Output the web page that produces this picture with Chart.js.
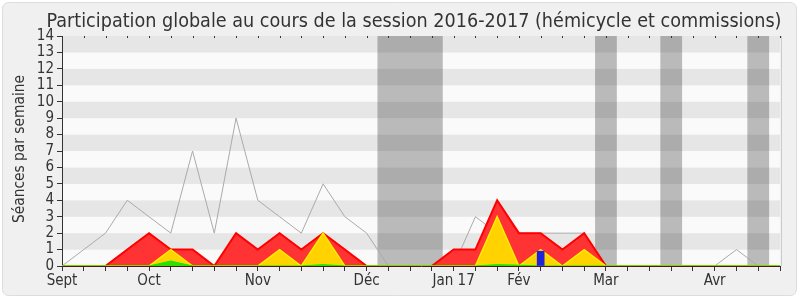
<!DOCTYPE html>
<html>
<head>
<meta charset="utf-8">
<script src="https://cdn.jsdelivr.net/npm/chart.js@4/dist/chart.umd.min.js"></script>
<style>
  html, body { margin: 0; padding: 0; background: #ffffff; }
  #wrap { width: 800px; height: 300px; }
</style>
</head>
<body>
<div id="wrap"><canvas id="participation-chart" width="800" height="300"></canvas></div>
<script>
// Semaines de la session (une étiquette par mois)
const weeks = ["Sept", "", "", "", "Oct", "", "", "", "", "Nov", "", "", "", "", "Déc", "", "", "",
  "Jan 17", "", "", "Fév", "", "", "", "Mar", "", "", "", "", "Avr", "", "", ""];

// Séances par semaine
const totalSeances = [0, 1, 2, 4, 3, 2, 7, 2, 9, 4, 3, 2, 5, 3, 2, 0, 0, 0, 0, 3, 2, 2, 2, 2, 2, 0, 0, 0, 0, 0, 0, 1, 0, 0];
const presences = [0, 0, 0, 1, 2, 1, 1, 0, 2, 1, 2, 1, 2, 1, 0, 0, 0, 0, 1, 1, 4, 2, 2, 1, 2, 0, 0, 0, 0, 0, 0, 0, 0, 0];
const participations = [0, 0, 0, 0, 0, 1, 0, 0, 0, 0, 1, 0, 2, 0, 0, 0, 0, 0, 0, 0, 3, 0, 1, 0, 1, 0, 0, 0, 0, 0, 0, 0, 0, 0];
const interventions = [0, 0, 0, 0, 0, 0.3, 0, 0, 0, 0, 0, 0, 0.08, 0, 0, 0, 0, 0, 0, 0, 0.08, 0.05, 0, 0, 0, 0, 0, 0, 0, 0, 0, 0, 0, 0];
const questions = [null, null, null, null, null, null, null, null, null, null, null, null, null, null, null, null, null, null,
  null, null, null, null, 0.9, null, null, null, null, null, null, null, null, null, null, null];

// Vacances parlementaires (indices de semaines, début et fin)
const vacances = [[15, 17], [25, 25], [28, 28], [32, 32]];

const titre = "Participation globale au cours de la session 2016-2017 (hémicycle et commissions)";
const titreAxe = "Séances par semaine";
const police = '"DejaVu Sans Condensed", "DejaVu Sans", sans-serif';

// Texte étiré horizontalement pour tenir dans une largeur donnée
function drawFitted(ctx, text, size, width, x, y, rotate) {
    ctx.save();
    ctx.font = size + "px " + police;
    const w = ctx.measureText(text).width;
    ctx.translate(x, y);
    if (rotate) ctx.rotate(-Math.PI / 2);
    ctx.scale(width / w, 1);
    ctx.fillStyle = "#333333";
    ctx.textAlign = "center";
    ctx.textBaseline = "alphabetic";
    ctx.fillText(text, 0, 0);
    ctx.restore();
}

const decorPlugin = {
    id: "decor",
    beforeDraw(chart) {
        const ctx = chart.ctx;
        const area = chart.chartArea;
        const x = chart.scales.x;
        const y = chart.scales.y;

        // fond général
        ctx.save();
        ctx.fillStyle = "#ffffff";
        ctx.fillRect(0, 0, chart.width, chart.height);
        ctx.fillStyle = "#f0f0f0";
        ctx.strokeStyle = "#dddddd";
        ctx.lineWidth = 1;
        ctx.beginPath();
        ctx.roundRect(2.5, 2.5, chart.width - 6, chart.height - 7, 6);
        ctx.fill();
        ctx.stroke();

        // bandes horizontales
        for (let v = 0; v < 14; v++) {
            ctx.fillStyle = v % 2 === 1 ? "#e6e6e6" : "#fafafa";
            const top = y.getPixelForValue(v + 1);
            const bottom = y.getPixelForValue(v);
            ctx.fillRect(area.left, top, area.right - area.left, bottom - top);
        }

        // vacances
        ctx.fillStyle = "rgba(40, 40, 40, 0.3)";
        vacances.forEach(([debut, fin]) => {
            const x0 = x.getPixelForValue(debut - 0.5);
            const x1 = x.getPixelForValue(fin + 0.5);
            ctx.fillRect(x0, area.top, x1 - x0, area.bottom - area.top);
        });

        // bord droit du cadre
        ctx.strokeStyle = "#cccccc";
        ctx.beginPath();
        ctx.moveTo(area.right + 1.5, area.top);
        ctx.lineTo(area.right + 1.5, area.bottom);
        ctx.stroke();
        ctx.restore();

        drawFitted(ctx, titre, 20, 735, 414, 27, false);
        drawFitted(ctx, titreAxe, 15, 148, 24, 149, true);
    },
    afterDraw(chart) {
        const ctx = chart.ctx;
        const area = chart.chartArea;
        const x = chart.scales.x;
        // petites marques en haut
        ctx.save();
        ctx.strokeStyle = "#333333";
        ctx.lineWidth = 1;
        weeks.forEach((_, i) => {
            const px = Math.round(x.getPixelForValue(i)) + 0.5;
            ctx.beginPath();
            ctx.moveTo(px, area.top);
            ctx.lineTo(px, area.top + 2);
            ctx.stroke();
        });
        ctx.restore();
    }
};

const participationChart = new Chart(document.getElementById("participation-chart"), {
    type: "line",
    data: {
        labels: weeks,
        datasets: [
            {
                type: "bar",
                label: "Questions orales",
                data: questions,
                backgroundColor: "#2222dd",
                barThickness: 7,
                order: 0
            },
            {
                label: "Interventions",
                data: interventions,
                borderColor: "#00ee00",
                backgroundColor: "#33dd00",
                borderWidth: 1,
                fill: "origin",
                tension: 0,
                pointRadius: 0,
                order: 1
            },
            {
                label: "Participations",
                data: participations,
                borderColor: "#ffee00",
                backgroundColor: "#ffd200",
                borderWidth: 1.5,
                fill: "origin",
                tension: 0,
                pointRadius: 0,
                order: 2
            },
            {
                label: "Présences",
                data: presences,
                borderColor: "#ff0000",
                backgroundColor: "#ff3333",
                borderWidth: 2,
                fill: "origin",
                tension: 0,
                pointRadius: 0,
                order: 3
            },
            {
                label: "Séances",
                data: totalSeances,
                borderColor: "#aaaaaa",
                borderWidth: 1,
                fill: false,
                tension: 0,
                pointRadius: 0,
                order: 4
            }
        ]
    },
    options: {
        responsive: false,
        animation: false,
        events: [],
        layout: { padding: { top: 36, right: 20, left: 0, bottom: 0 } },
        plugins: {
            legend: { display: false },
            title: { display: false },
            tooltip: { enabled: false }
        },
        scales: {
            x: {
                offset: false,
                z: 1,
                grid: { drawOnChartArea: false, tickLength: 5, color: "#333333", offset: false },
                border: { color: "#4a1a1a", width: 1 },
                ticks: {
                    autoSkip: false,
                    maxRotation: 0,
                    padding: 1,
                    color: "#333333",
                    font: { family: police, size: 15 }
                },
                afterFit(scale) { scale.height = 34; }
            },
            y: {
                min: 0,
                max: 14,
                grid: { drawOnChartArea: false, tickLength: 5, color: "#333333" },
                border: { color: "#333333", width: 1 },
                ticks: {
                    stepSize: 1,
                    autoSkip: false,
                    padding: 3,
                    color: "#333333",
                    font: { family: police, size: 15 }
                },
                afterFit(scale) { scale.width = 62; }
            }
        }
    },
    plugins: [decorPlugin]
});
</script>
</body>
</html>
